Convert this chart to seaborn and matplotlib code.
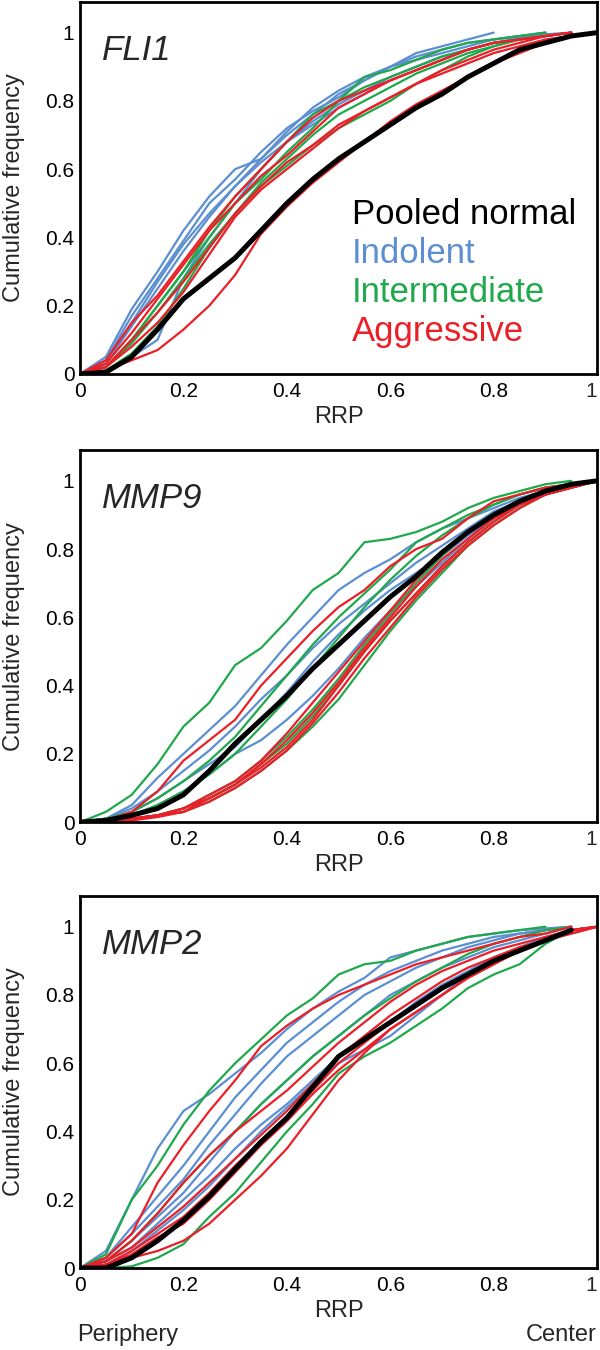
import pandas as pd
import matplotlib
matplotlib.use("Agg")
import matplotlib.pyplot as plt
import seaborn as sns
from matplotlib.ticker import MultipleLocator, FuncFormatter

rrp = [0.0, 0.05, 0.1, 0.15, 0.2, 0.25, 0.3, 0.35, 0.4, 0.45, 0.5,
       0.55, 0.6, 0.65, 0.7, 0.75, 0.8, 0.85, 0.9, 0.95, 1.0]

# FLI1
fli1_normal = [0, 0.005, 0.05, 0.13, 0.22, 0.28, 0.34, 0.42, 0.50, 0.57, 0.63,
               0.68, 0.73, 0.78, 0.82, 0.87, 0.91, 0.95, 0.97, 0.99, 1.0]
fli1_indolent = [
    [0, 0.05, 0.19, 0.30, 0.42, 0.52, 0.60, 0.63, 0.70, 0.76, 0.82, 0.86, 0.90, 0.94, 0.96, 0.98, 1.0],
    [0, 0.04, 0.17, 0.28, 0.39, 0.50, 0.57, 0.65, 0.72, 0.77, 0.81, 0.86, 0.90, 0.93, 0.95, 0.97, 0.98, 0.99, 1.0],
    [0, 0.03, 0.14, 0.25, 0.36, 0.46, 0.55, 0.63, 0.71, 0.78, 0.83, 0.87, 0.90, 0.92, 0.94, 0.96, 0.98, 0.99, 1.0],
    [0, 0.01, 0.05, 0.10, 0.28, 0.40, 0.50, 0.60, 0.68, 0.74, 0.79, 0.83, 0.87, 0.90, 0.93, 0.95, 0.97, 0.985, 0.995, 1.0],
    [0, 0.03, 0.15, 0.27, 0.38, 0.47, 0.55, 0.62, 0.68, 0.73, 0.78, 0.82, 0.86, 0.89, 0.92, 0.95, 0.97, 0.98, 0.99, 1.0],
]
fli1_intermediate = [
    [0, 0.02, 0.10, 0.20, 0.30, 0.42, 0.52, 0.60, 0.68, 0.76, 0.80, 0.87, 0.89, 0.92, 0.95, 0.97, 0.98, 0.99, 1.0],
    [0, 0.02, 0.09, 0.18, 0.28, 0.38, 0.47, 0.56, 0.63, 0.70, 0.76, 0.80, 0.84, 0.88, 0.91, 0.94, 0.96, 0.98, 0.99, 1.0],
    [0, 0.02, 0.10, 0.20, 0.30, 0.40, 0.50, 0.57, 0.65, 0.72, 0.80, 0.84, 0.87, 0.90, 0.93, 0.95, 0.97, 0.98, 0.99, 1.0],
    [0, 0.01, 0.06, 0.14, 0.25, 0.37, 0.47, 0.55, 0.61, 0.67, 0.72, 0.76, 0.80, 0.85, 0.89, 0.93, 0.96, 0.98, 0.99, 1.0],
]
fli1_aggressive = [
    [0, 0.04, 0.15, 0.23, 0.33, 0.43, 0.52, 0.60, 0.68, 0.75, 0.80, 0.83, 0.86, 0.89, 0.92, 0.95, 0.97, 0.98, 0.99, 1.0],
    [0, 0.03, 0.12, 0.22, 0.32, 0.42, 0.50, 0.58, 0.64, 0.71, 0.78, 0.82, 0.86, 0.89, 0.92, 0.95, 0.97, 0.98, 0.99, 1.0],
    [0, 0.02, 0.10, 0.18, 0.27, 0.37, 0.47, 0.55, 0.62, 0.67, 0.73, 0.77, 0.81, 0.85, 0.89, 0.92, 0.95, 0.97, 0.99, 1.0],
    [0, 0.02, 0.08, 0.15, 0.24, 0.35, 0.46, 0.54, 0.60, 0.66, 0.72, 0.77, 0.81, 0.85, 0.88, 0.91, 0.94, 0.96, 0.98, 0.99, 1.0],
    [0, 0.01, 0.04, 0.07, 0.13, 0.20, 0.29, 0.41, 0.49, 0.56, 0.62, 0.68, 0.74, 0.79, 0.83, 0.87, 0.91, 0.94, 0.97, 0.99, 1.0],
]

# MMP9
mmp9_normal = [0, 0.005, 0.02, 0.04, 0.08, 0.15, 0.23, 0.30, 0.37, 0.45, 0.52,
               0.59, 0.66, 0.72, 0.79, 0.85, 0.90, 0.94, 0.97, 0.99, 1.0]
mmp9_indolent = [
    [0, 0.01, 0.05, 0.13, 0.20, 0.27, 0.34, 0.43, 0.52, 0.60, 0.68, 0.73, 0.77, 0.82, 0.86, 0.89, 0.92, 0.95, 0.97, 0.99, 1.0],
    [0, 0.01, 0.04, 0.09, 0.15, 0.21, 0.28, 0.36, 0.43, 0.51, 0.58, 0.64, 0.70, 0.76, 0.81, 0.86, 0.91, 0.94, 0.97, 0.99, 1.0],
    [0, 0.01, 0.03, 0.07, 0.12, 0.17, 0.22, 0.30, 0.38, 0.47, 0.55, 0.62, 0.68, 0.73, 0.78, 0.84, 0.89, 0.93, 0.96, 0.98, 1.0],
    [0, 0.01, 0.02, 0.05, 0.09, 0.14, 0.20, 0.24, 0.30, 0.37, 0.45, 0.54, 0.62, 0.69, 0.76, 0.83, 0.89, 0.93, 0.96, 0.98, 1.0],
]
mmp9_intermediate = [
    [0, 0.03, 0.08, 0.17, 0.28, 0.35, 0.46, 0.51, 0.59, 0.68, 0.73, 0.82, 0.83, 0.85, 0.88, 0.92, 0.95, 0.97, 0.99, 1.0],
    [0, 0.01, 0.03, 0.07, 0.12, 0.18, 0.25, 0.34, 0.43, 0.52, 0.60, 0.67, 0.74, 0.82, 0.86, 0.90, 0.93, 0.96, 0.98, 0.99, 1.0],
    [0, 0.005, 0.01, 0.02, 0.04, 0.07, 0.11, 0.17, 0.23, 0.31, 0.40, 0.50, 0.59, 0.67, 0.75, 0.82, 0.88, 0.93, 0.96, 0.98, 1.0],
    [0, 0.005, 0.01, 0.02, 0.03, 0.06, 0.10, 0.15, 0.21, 0.28, 0.36, 0.46, 0.56, 0.65, 0.73, 0.81, 0.87, 0.92, 0.96, 0.98, 1.0],
    [0, 0.005, 0.01, 0.02, 0.04, 0.08, 0.12, 0.18, 0.25, 0.33, 0.42, 0.52, 0.61, 0.70, 0.78, 0.85, 0.90, 0.94, 0.97, 0.99, 1.0],
    [0, 0.01, 0.02, 0.05, 0.09, 0.14, 0.20, 0.28, 0.36, 0.45, 0.54, 0.63, 0.71, 0.78, 0.84, 0.89, 0.93, 0.96, 0.98, 0.99, 1.0],
]
mmp9_aggressive = [
    [0, 0.005, 0.03, 0.09, 0.18, 0.24, 0.30, 0.40, 0.48, 0.56, 0.63, 0.68, 0.75, 0.80, 0.83, 0.89, 0.94, 0.96, 0.98, 0.99, 1.0],
    [0, 0.0, 0.01, 0.02, 0.04, 0.07, 0.11, 0.16, 0.22, 0.30, 0.40, 0.50, 0.59, 0.67, 0.75, 0.82, 0.88, 0.93, 0.96, 0.98, 1.0],
    [0, 0.0, 0.01, 0.02, 0.03, 0.06, 0.10, 0.15, 0.21, 0.29, 0.38, 0.48, 0.57, 0.66, 0.74, 0.81, 0.87, 0.92, 0.96, 0.98, 1.0],
    [0, 0.0, 0.005, 0.015, 0.03, 0.07, 0.11, 0.17, 0.24, 0.32, 0.41, 0.51, 0.60, 0.69, 0.77, 0.83, 0.89, 0.93, 0.96, 0.98, 1.0],
    [0, 0.0, 0.01, 0.02, 0.04, 0.08, 0.12, 0.18, 0.26, 0.35, 0.44, 0.53, 0.62, 0.71, 0.79, 0.85, 0.90, 0.94, 0.97, 0.99, 1.0],
]

# MMP2
mmp2_normal = [0, 0.0, 0.03, 0.08, 0.14, 0.21, 0.29, 0.37, 0.44, 0.53, 0.62,
               0.67, 0.72, 0.77, 0.82, 0.86, 0.90, 0.93, 0.96, 0.99]
mmp2_indolent = [
    [0, 0.05, 0.20, 0.35, 0.46, 0.51, 0.57, 0.63, 0.70, 0.76, 0.81, 0.85, 0.91, 0.93, 0.95, 0.97, 0.98, 0.99, 0.995, 1.0],
    [0, 0.03, 0.12, 0.21, 0.30, 0.40, 0.50, 0.58, 0.66, 0.72, 0.78, 0.83, 0.87, 0.90, 0.93, 0.95, 0.97, 0.98, 0.99, 1.0],
    [0, 0.02, 0.08, 0.15, 0.22, 0.31, 0.40, 0.48, 0.55, 0.62, 0.68, 0.74, 0.80, 0.84, 0.88, 0.91, 0.94, 0.96, 0.98, 1.0],
    [0, 0.02, 0.06, 0.13, 0.20, 0.27, 0.35, 0.42, 0.48, 0.55, 0.62, 0.67, 0.72, 0.78, 0.83, 0.87, 0.91, 0.94, 0.97, 0.99, 1.0],
    [0, 0.01, 0.05, 0.11, 0.17, 0.24, 0.32, 0.40, 0.47, 0.54, 0.60, 0.64, 0.68, 0.74, 0.80, 0.86, 0.90, 0.93, 0.96, 0.99, 1.0],
    [0, 0.03, 0.10, 0.18, 0.26, 0.36, 0.45, 0.54, 0.62, 0.68, 0.74, 0.80, 0.84, 0.88, 0.91, 0.94, 0.96, 0.98, 0.99, 1.0],
]
mmp2_intermediate = [
    [0, 0.04, 0.20, 0.30, 0.42, 0.52, 0.60, 0.67, 0.74, 0.79, 0.86, 0.89, 0.90, 0.93, 0.95, 0.97, 0.98, 0.99, 1.0],
    [0, 0.0, 0.005, 0.03, 0.07, 0.15, 0.22, 0.31, 0.40, 0.48, 0.57, 0.62, 0.66, 0.71, 0.76, 0.82, 0.86, 0.89, 0.95, 0.99, 1.0],
    [0, 0.02, 0.08, 0.16, 0.25, 0.33, 0.40, 0.48, 0.55, 0.62, 0.68, 0.74, 0.79, 0.84, 0.88, 0.92, 0.95, 0.97, 0.99, 1.0],
]
mmp2_aggressive = [
    [0, 0.03, 0.10, 0.25, 0.36, 0.46, 0.55, 0.65, 0.71, 0.76, 0.80, 0.83, 0.86, 0.89, 0.91, 0.93, 0.95, 0.97, 0.98, 1.0],
    [0, 0.02, 0.08, 0.16, 0.25, 0.33, 0.40, 0.46, 0.52, 0.59, 0.66, 0.72, 0.78, 0.83, 0.87, 0.90, 0.93, 0.95, 0.97, 0.99, 1.0],
    [0, 0.02, 0.06, 0.12, 0.18, 0.25, 0.32, 0.39, 0.46, 0.54, 0.62, 0.68, 0.74, 0.79, 0.84, 0.88, 0.91, 0.94, 0.96, 0.99, 1.0],
    [0, 0.01, 0.05, 0.10, 0.15, 0.22, 0.30, 0.37, 0.44, 0.52, 0.60, 0.66, 0.72, 0.77, 0.82, 0.86, 0.90, 0.93, 0.96, 0.99, 1.0],
    [0, 0.01, 0.04, 0.09, 0.13, 0.20, 0.28, 0.36, 0.43, 0.51, 0.58, 0.64, 0.70, 0.75, 0.80, 0.85, 0.89, 0.93, 0.96, 0.98, 1.0],
    [0, 0.01, 0.03, 0.05, 0.08, 0.13, 0.20, 0.27, 0.35, 0.45, 0.55, 0.63, 0.70, 0.75, 0.80, 0.85, 0.89, 0.93, 0.96, 0.98, 1.0],
]

genes = ["FLI1", "MMP9", "MMP2"]
groups = ["Pooled normal", "Indolent", "Intermediate", "Aggressive"]
colors = {"Pooled normal": "black", "Indolent": "#5b8fd2",
          "Intermediate": "#20a84c", "Aggressive": "#eb1f27"}

panels = {
    "FLI1": (fli1_normal, fli1_indolent, fli1_intermediate, fli1_aggressive),
    "MMP9": (mmp9_normal, mmp9_indolent, mmp9_intermediate, mmp9_aggressive),
    "MMP2": (mmp2_normal, mmp2_indolent, mmp2_intermediate, mmp2_aggressive),
}

# long table: one row per point
rows = []
for gene in genes:
    normal, ind, inter, agg = panels[gene]
    for group, curves in zip(groups[1:], [ind, inter, agg]):
        for k, ys in enumerate(curves):
            for x, y in zip(rrp, ys):
                rows.append((gene, group, f"{group} {k}", x, y))
    for x, y in zip(rrp, normal):
        rows.append((gene, "Pooled normal", "normal", x, y))
df = pd.DataFrame(rows, columns=["gene", "group", "curve", "RRP", "freq"])

sns.set_style("white")
plt.rcParams["font.family"] = ["Liberation Sans", "DejaVu Sans"]

fig = plt.figure(figsize=(6, 13.5), dpi=100)
bottoms = [0.723, 0.391, 0.0607]

# x labels: the last one ("1") is drawn right-aligned so it stays inside the figure
xfmt = FuncFormatter(lambda v, _: "" if v > 0.99 else f"{v:g}")
yfmt = FuncFormatter(lambda v, _: f"{v:g}")

for gene, b in zip(genes, bottoms):
    ax = fig.add_axes([0.1333, b, 0.862, 0.2756])
    sub = df[df["gene"] == gene]
    sns.lineplot(data=sub[sub["group"] != "Pooled normal"], x="RRP", y="freq",
                 hue="group", units="curve", estimator=None, palette=colors,
                 linewidth=1.6, legend=False, sort=False, ax=ax)
    sns.lineplot(data=sub[sub["group"] == "Pooled normal"], x="RRP", y="freq",
                 color="black", linewidth=3.6, estimator=None, sort=False, ax=ax)

    ax.set_xlim(0, 1)
    ax.set_ylim(0, 1.09)
    ax.xaxis.set_major_locator(MultipleLocator(0.2))
    ax.xaxis.set_minor_locator(MultipleLocator(0.1))
    ax.yaxis.set_major_locator(MultipleLocator(0.2))
    ax.xaxis.set_major_formatter(xfmt)
    ax.yaxis.set_major_formatter(yfmt)
    ax.tick_params(which="both", direction="in", length=8, width=2,
                   top=False, right=False, colors="black", labelsize=15)
    ax.tick_params(axis="x", which="both", pad=6)
    ax.tick_params(axis="y", pad=4)
    ax.annotate("1", xy=(1, 0), xycoords="axes fraction", xytext=(0, -6),
                textcoords="offset points", ha="right", va="top", fontsize=15)
    for s in ax.spines.values():
        s.set_linewidth(2)
        s.set_color("black")

    ax.set_xlabel("RRP", fontsize=17)
    ax.set_ylabel("Cumulative frequency", fontsize=17)
    ax.xaxis.set_label_coords(0.5, -0.086)
    ax.yaxis.set_label_coords(-0.106, 0.5)

    ax.text(0.043, 0.92, gene, fontsize=25, style="italic", va="baseline")

    if gene == "FLI1":
        for g, yb in zip(groups, [0.44, 0.326, 0.211, 0.097]):
            ax.text(0.526, yb, g, fontsize=25, color=colors[g], va="baseline")

fig.text(77 / 600, 0.011, "Periphery", fontsize=17, ha="left", va="center")
fig.text(597 / 600, 0.011, "Center", fontsize=17, ha="right", va="center")

fig.savefig("out.png", dpi=100)
